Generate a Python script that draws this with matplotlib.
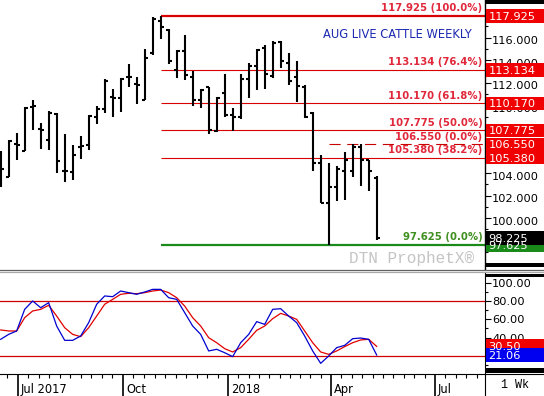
import numpy as np
import pandas as pd
import matplotlib
matplotlib.use("Agg")
import matplotlib.pyplot as plt
import matplotlib.dates as mdates
import matplotlib.ticker as mticker
from matplotlib.patches import Rectangle
from matplotlib.lines import Line2D
from matplotlib.transforms import blended_transform_factory, ScaledTranslation

# weekly bars, Aug live cattle
first_week = "2017-06-16"
opens = [105.25, 103.65, 106.6, 106.0, 109.88, 107.95, 106.9, 109.25, 104.22, 104.07,
         106.31, 106.46, 108.99, 109.65, 110.75, 110.62, 112.51, 111.91, 110.48, 114.65,
         117.45, 116.65, 113.15, 114.85, 112.55, 110.48, 111.61, 107.74, 111.07, 109.14,
         108.99, 112.35, 113.45, 115.05, 112.65, 115.65, 113.75, 112.55, 111.61, 109.29,
         104.87, 101.39, 102.73, 104.22, 104.22, 106.3, 105.12, 103.6]
highs = [106.0, 106.96, 107.56, 109.82, 110.48, 108.4, 109.52, 109.29, 107.44, 106.46,
         107.26, 109.14, 109.94, 112.33, 111.43, 112.42, 113.69, 112.51, 115.01, 117.8,
         117.925, 116.81, 114.95, 116.2, 113.09, 111.46, 111.61, 110.77, 112.82, 109.75,
         112.82, 113.75, 115.01, 115.31, 115.69, 115.69, 114.65, 113.9, 111.82, 109.43,
         105.64, 104.87, 104.65, 105.86, 106.55, 106.55, 105.17, 103.78]
lows = [102.73, 103.62, 105.12, 105.95, 107.86, 106.16, 106.07, 103.98, 103.18, 103.39,
        105.27, 106.07, 108.31, 109.29, 108.93, 109.44, 111.61, 110.12, 110.48, 114.5,
        115.9, 113.69, 112.42, 112.27, 109.94, 109.75, 107.44, 107.65, 108.93, 107.74,
        108.75, 110.62, 111.37, 111.46, 112.42, 113.31, 111.82, 110.33, 108.84, 104.22,
        101.39, 97.625, 101.54, 101.6, 103.62, 102.87, 102.43, 98.1]
closes = [104.4, 106.85, 106.46, 109.73, 109.94, 107.8, 109.29, 105.05, 104.16, 105.56,
          106.4, 109.05, 109.65, 112.12, 110.68, 112.35, 112.51, 111.82, 114.2, 117.65,
          116.95, 113.9, 114.8, 112.72, 110.48, 111.37, 107.8, 110.65, 109.14, 108.99,
          112.35, 113.45, 114.95, 112.75, 115.55, 113.9, 112.15, 111.73, 108.99, 104.87,
          101.39, 102.73, 104.37, 105.12, 106.3, 105.12, 104.22, 98.225]

# stochastics
stoch_k = [38.2, 43.6, 47.3, 70.9, 80.0, 72.7, 78.2, 52.7, 37.1, 37.1,
           41.8, 56.4, 76.4, 85.5, 84.7, 90.9, 89.1, 87.3, 89.8, 92.7,
           92.7, 83.6, 81.8, 67.3, 52.7, 43.6, 25.5, 27.3, 23.6, 19.3,
           34.5, 43.6, 57.5, 54.5, 70.9, 71.6, 63.6, 56.4, 41.8, 25.5,
           12.0, 20.0, 29.1, 31.6, 38.9, 39.6, 38.2, 21.06]
stoch_d = [48.4, 47.3, 47.3, 61.8, 69.1, 70.9, 75.3, 63.6, 50.9, 43.6,
           41.1, 50.9, 63.6, 76.4, 81.8, 87.3, 88.4, 88.0, 89.1, 90.9,
           92.0, 89.1, 83.6, 74.5, 61.8, 52.7, 40.0, 34.5, 28.0, 24.4,
           29.1, 38.2, 48.0, 52.7, 60.7, 66.5, 63.6, 60.0, 47.3, 34.5,
           24.4, 21.8, 25.5, 30.2, 34.5, 37.5, 38.2, 30.5]

# retracement
fib_high = 117.925
fib_low = 97.625
fib_pcts = [100.0, 76.4, 61.8, 50.0, 38.2]
fib_start_week = 20
second_high = 106.55
second_start_week = 41

quarter_dates = ["2017-07-01", "2017-10-01", "2018-01-01", "2018-04-01", "2018-07-01"]
quarter_labels = ["Jul 2017", "Oct", "2018", "Apr", "Jul"]

plt.rcParams["font.family"] = "DejaVu Sans"

W, H = 544, 396
fig = plt.figure(figsize=(W / 100, H / 100), dpi=100)

def fx(px):
    return px / W

def fy(py):
    return 1 - py / H

ax = fig.add_axes([0, fy(269), fx(484.5), 269 / H])
osc = fig.add_axes([0, fy(373.5), fx(484.5), (373.5 - 273) / H], sharex=ax)

weeks = pd.date_range(first_week, periods=len(closes), freq="7D")
x = mdates.date2num(weeks)
x_left = mdates.date2num(pd.Timestamp("2017-06-15 10:00"))
x_right = mdates.date2num(pd.Timestamp("2018-08-13 08:00"))
tick_w = 2.6

# price bars
ax.vlines(x, lows, highs, color="black", lw=1.5, zorder=3)
ax.hlines(opens, x - tick_w, x, color="black", lw=1.5, zorder=3)
ax.hlines(closes, x, x + tick_w, color="black", lw=1.5, zorder=3)

red_txt = "#e0283a"
green_txt = "#3f8f20"
for pct in fib_pcts:
    level = fib_low + (fib_high - fib_low) * pct / 100
    lw = 1.6 if pct == 100.0 else 0.8
    ax.hlines(level, x[fib_start_week], x_right, color="#d80000", lw=lw, zorder=2)
    ax.annotate(f"{level:.3f} ({pct:.1f}%)", (0.996, level),
                xycoords=("axes fraction", "data"), xytext=(0, 5.6),
                textcoords="offset points", ha="right", va="center",
                fontsize=7.3, fontweight="bold", color=red_txt, zorder=4)
ax.hlines(second_high, x[second_start_week], x_right, color="#c80000", lw=0.8,
          linestyles=(0, (10, 6)), zorder=2)
ax.annotate(f"{second_high:.3f} (0.0%)", (0.996, second_high),
            xycoords=("axes fraction", "data"), xytext=(0, 5.6),
            textcoords="offset points", ha="right", va="center",
            fontsize=7.3, fontweight="bold", color=red_txt, zorder=4)
ax.hlines(fib_low, x[fib_start_week], x_right, color="#1a8a1a", lw=1.6, zorder=2)
ax.annotate(f"{fib_low:.3f} (0.0%)", (0.996, fib_low),
            xycoords=("axes fraction", "data"), xytext=(0, 5.6),
            textcoords="offset points", ha="right", va="center",
            fontsize=7.3, fontweight="bold", color=green_txt, zorder=4)

ax.text(472 / 484.5, (269 - 34) / 269, "AUG LIVE CATTLE WEEKLY", transform=ax.transAxes,
        ha="right", va="center", fontsize=8.3, color="#1a28b0")
ax.text(474 / 484.5, (269 - 258) / 269, "DTN ProphetX®", transform=ax.transAxes,
        ha="right", va="center", fontsize=11.5, color="#c4c4c4",
        family=["Liberation Mono", "DejaVu Sans Mono"])

ax.set_xlim(x_left, x_right)
ax.set_ylim(117.925 - 253 / 11.28, 117.925 + 16 / 11.28)
ax.yaxis.tick_right()
ax.yaxis.set_major_locator(mticker.FixedLocator(np.arange(98, 117, 2)))
ax.yaxis.set_minor_locator(mticker.FixedLocator(np.arange(97, 118, 1)))
ax.yaxis.set_major_formatter(mticker.FormatStrFormatter("%.3f"))
ax.tick_params(axis="y", which="major", length=4, width=0.8, pad=1.5, labelsize=8.2)
ax.tick_params(axis="y", which="minor", length=2, width=0.8)
ax.tick_params(axis="x", which="both", bottom=False, labelbottom=False)
for lab in ax.get_yticklabels():
    lab.set_transform(lab.get_transform() + ScaledTranslation(0, -2.5 / 100, fig.dpi_scale_trans))
for s in ["left", "top", "bottom"]:
    ax.spines[s].set_visible(False)
ax.spines["right"].set_linewidth(1)

# stochastic panel
osc.axhline(80, color="#d00000", lw=0.9)
osc.axhline(20, color="#d00000", lw=0.9)
osc.plot(x, stoch_d, color="#e00000", lw=0.9)
osc.plot(x, stoch_k, color="#0000d0", lw=0.9)
osc.set_ylim(20 - 17.5 / 0.9167, 80 + 28 / 0.9167)
osc.yaxis.tick_right()
osc.yaxis.set_major_locator(mticker.FixedLocator([20, 40, 60, 80, 100]))
osc.yaxis.set_minor_locator(mticker.FixedLocator([10, 30, 50, 70, 90]))
osc.yaxis.set_major_formatter(mticker.FormatStrFormatter("%.2f"))
osc.tick_params(axis="y", which="major", length=4, width=0.8, pad=1.5, labelsize=8.2)
osc.tick_params(axis="y", which="minor", length=2, width=0.8)
for s in ["left", "top"]:
    osc.spines[s].set_visible(False)

q = mdates.date2num(pd.to_datetime(quarter_dates))
q_ext = np.concatenate([[q[0] - (q[1] - q[0])], q, [q[-1] + (q[-1] - q[-2])]])
minor_x = np.concatenate([np.linspace(a, b, 11)[1:-1] for a, b in zip(q_ext[:-1], q_ext[1:])])
osc.xaxis.set_major_locator(mticker.FixedLocator(q))
osc.xaxis.set_major_formatter(mticker.FixedFormatter(quarter_labels))
osc.xaxis.set_minor_locator(mticker.FixedLocator(minor_x))
osc.tick_params(axis="x", which="major", length=16, width=1.2, pad=-9.5, labelsize=8.3)
osc.tick_params(axis="x", which="minor", length=3, width=0.8)
for lab in osc.get_xticklabels():
    lab.set_horizontalalignment("left")
    lab.set_transform(lab.get_transform() + ScaledTranslation(3 / 100, 0, fig.dpi_scale_trans))

# value boxes on the scale
def box(axis, value, text, color, height_px, px_per_unit):
    h = height_px / px_per_unit
    tr = blended_transform_factory(axis.transAxes, axis.transData)
    axis.add_patch(Rectangle((1 + 1.5 / 484.5, value - h / 2), 58 / 484.5, h, transform=tr,
                             facecolor=color, edgecolor="none", clip_on=False, zorder=5))
    axis.text(1 + 4 / 484.5, value, text, transform=tr, color="white", fontsize=8.2,
              ha="left", va="center_baseline", clip_on=False, zorder=6)

for pct in fib_pcts:
    level = fib_low + (fib_high - fib_low) * pct / 100
    if pct == 38.2:
        box(ax, second_high, f"{second_high:.3f}", "#f00000", 13.5, 11.28)
    box(ax, level, f"{level:.3f}", "#f00000", 13.5, 11.28)
box(ax, fib_low, f"{fib_low:.3f}", "#1a8a1a", 13.5, 11.28)
box(ax, closes[-1], f"{closes[-1]:.3f}", "black", 13.5, 11.28)
box(osc, stoch_d[-1], f"{stoch_d[-1]:.2f}", "#f00000", 14.3, 0.9167)
box(osc, stoch_k[-1], f"{stoch_k[-1]:.2f}", "#0000f0", 14.3, 0.9167)

# frame bits of the chart window
for y0, y1 in [(0, 4), (263, 267), (273.5, 277), (368, 373)]:
    fig.add_artist(Rectangle((fx(485), fy(y1)), fx(59), (y1 - y0) / H,
                             transform=fig.transFigure, facecolor="black", edgecolor="none"))
fig.add_artist(Line2D([0, 1], [fy(270), fy(270)], transform=fig.transFigure, color="#606060", lw=0.9))
fig.add_artist(Line2D([0, 1], [fy(272.3), fy(272.3)], transform=fig.transFigure, color="#a8a8a8", lw=0.9))
fig.add_artist(Line2D([fx(484.5), 1], [fy(373.5), fy(373.5)], transform=fig.transFigure, color="black", lw=0.8))
fig.add_artist(Line2D([fx(484.5), fx(484.5)], [fy(373.5), 0], transform=fig.transFigure, color="black", lw=0.8))
fig.text(fx(515), fy(385), "1 Wk", ha="center", va="center", fontsize=8.5,
         family=["Liberation Mono", "DejaVu Sans Mono"])

fig.savefig("out.png", dpi=100, facecolor="white")
